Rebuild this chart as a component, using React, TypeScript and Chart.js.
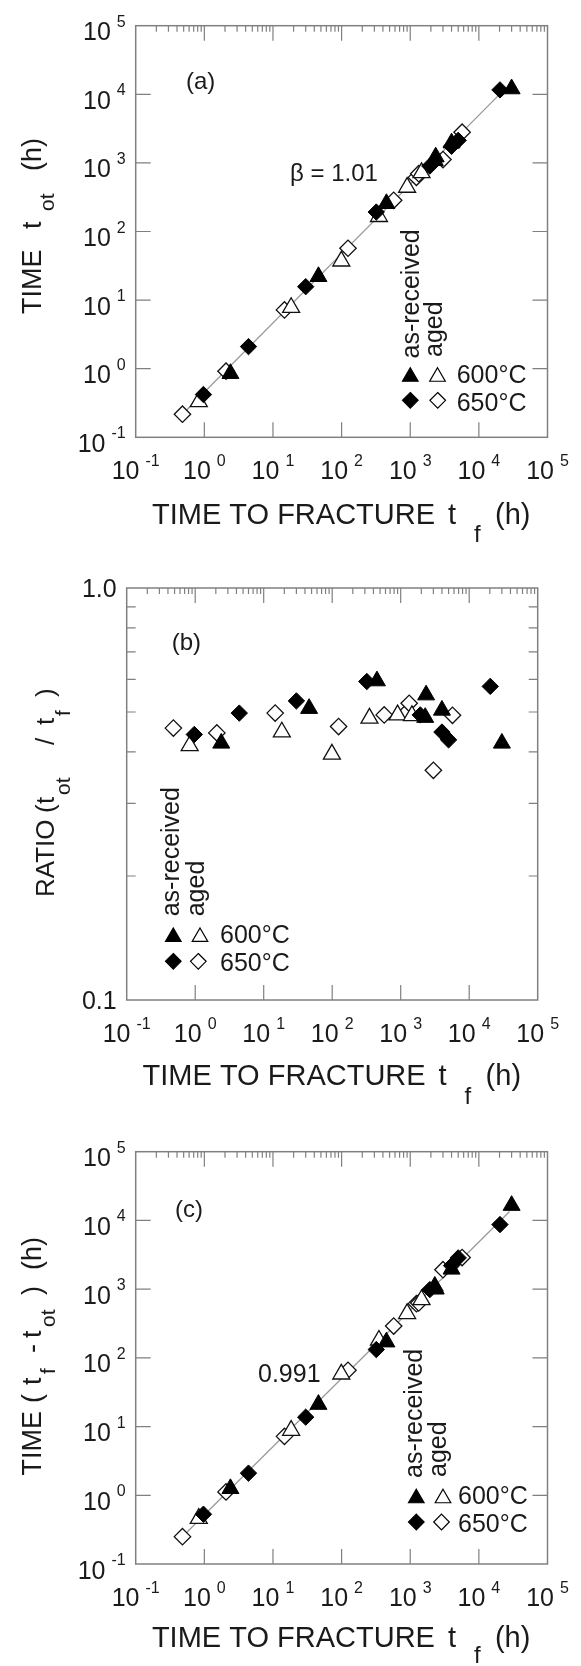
import React, { useEffect, useRef } from 'react';
import { Chart, registerables } from 'chart.js';

Chart.register(...registerables);

// ---------------- data (hours) ----------------
// as-received, 600°C (filled triangles)
const tfAR600 = [2.4, 46, 450, 2350, 2280, 4000, 30000];
const totAR600 = [0.85, 22, 255, 1220, 1080, 1950, 12000];
const ratioAR600 = [0.42, 0.51, 0.595, 0.55, 0.485, 0.505, 0.42];
const diffAR600 = [1.25, 21, 170, 1000, 1100, 1950, 16500];

// as-received, 650°C (filled diamonds)
const tfAR650 = [0.97, 4.4, 30, 320, 1930, 4000, 5000, 20300];
const totAR650 = [0.42, 2.1, 15.7, 192, 900, 1750, 2130, 11600];
const ratioAR650 = [0.441, 0.497, 0.532, 0.593, 0.492, 0.447, 0.428, 0.577];
const diffAR650 = [0.53, 2.1, 13.7, 132, 985, 2200, 2850, 8700];

// aged, 600°C (open triangles)
const tfAG600 = [0.83, 18.4, 99, 350, 900, 1460];
const totAG600 = [0.33, 7.8, 37, 165, 440, 720];
const ratioAG600 = [0.414, 0.447, 0.395, 0.483, 0.492, 0.49];
const diffAG600 = [0.46, 8.8, 58, 180, 440, 700];

// aged, 650°C (open diamonds)
const tfAG650 = [0.48, 2.07, 14.7, 124, 574, 1230, 1330, 3000, 5700];
const totAG650 = [0.217, 0.92, 7.2, 57, 285, 615, 695, 1120, 2800];
const ratioAG650 = [0.457, 0.445, 0.497, 0.461, 0.492, 0.5, 0.525, 0.361, 0.491];
const diffAG650 = [0.25, 1.12, 7.2, 66, 290, 615, 630, 1920, 2880];

// fitted lines
const fitXa = [0.48, 25000];
const fitYa = [0.217, 12500];
const fitXc = [0.47, 28000];
const fitYc = [0.245, 13500];

// axis ticks / labels
const xDecades = [-1, 0, 1, 2, 3, 4, 5];
const yDecades = [-1, 0, 1, 2, 3, 4, 5];
const minorMultipliers = [2, 3, 4, 5, 6, 7, 8, 9];
const ratioTicks = [0.2, 0.3, 0.4, 0.5, 0.6, 0.7, 0.8, 0.9];
const ratioLabelVals = [0.1, 1.0];
const ratioLabelText = ['0.1', '1.0'];

// ---------------- styling ----------------
const FONT = '"Liberation Sans", Arial, Helvetica, sans-serif';
const fnt = (s: number) => `${s}px ${FONT}`;
const TEXT = '#1a1a1a';
const AXIS = '#808080';
const LINE = '#9a9a9a';

type Seg = { t: string; at: number; size: number; dy?: number };
type Note = { t: string; x: number; y: number; size: number };
type Legend = {
  arX: number; arY0: number; agX: number; agY0: number;
  row1: number; row2: number; fx: number; oxT: number; oxD: number; tx: number; tb1: number; tb2: number;
};
type PanelCfg = {
  top: number;
  height: number;
  plot: { l: number; r: number; t: number; b: number };
  yMin: number;
  yMax: number;
  ratio: boolean;
  ys: { ar600: number[]; ar650: number[]; ag600: number[]; ag650: number[] };
  fit?: { x: number[]; y: number[] };
  xTitle: { x0: number; base: number; subDy: number };
  yTitle: { xb: number; y0: number; segs: Seg[] };
  notes: Note[];
  legend: Legend;
};

const pts = (xs: number[], ys: number[]) => xs.map((x, i) => ({ x, y: ys[i] }));

function drawPow(ctx: CanvasRenderingContext2D, x: number, base: number, d: number, align: 'center' | 'right') {
  ctx.font = fnt(25);
  const w1 = ctx.measureText('10').width;
  const e = String(d);
  ctx.font = fnt(16);
  const w2 = ctx.measureText(e).width;
  const gap = 6;
  const total = w1 + gap + w2;
  const x0 = align === 'center' ? x - total / 2 : x - total;
  ctx.font = fnt(25);
  ctx.fillText('10', x0, base);
  ctx.font = fnt(16);
  ctx.fillText(e, x0 + w1 + gap, base - 13.5);
}

function drawV(ctx: CanvasRenderingContext2D, xb: number, y0: number, segs: Seg[]) {
  ctx.save();
  ctx.translate(xb, y0);
  ctx.rotate(-Math.PI / 2);
  segs.forEach((s) => {
    ctx.font = fnt(s.size);
    ctx.fillText(s.t, s.at, s.dy || 0);
  });
  ctx.restore();
}

function legTri(ctx: CanvasRenderingContext2D, x: number, y: number, filled: boolean) {
  const hw = 7.8;
  const h = 13.5;
  ctx.beginPath();
  ctx.moveTo(x, y - h / 2);
  ctx.lineTo(x + hw, y + h / 2);
  ctx.lineTo(x - hw, y + h / 2);
  ctx.closePath();
  ctx.fillStyle = filled ? '#000' : '#fff';
  ctx.fill();
  ctx.lineWidth = 1.2;
  ctx.strokeStyle = '#000';
  ctx.stroke();
}

function legDia(ctx: CanvasRenderingContext2D, x: number, y: number, filled: boolean) {
  const r = 7.8;
  ctx.beginPath();
  ctx.moveTo(x, y - r);
  ctx.lineTo(x + r, y);
  ctx.lineTo(x, y + r);
  ctx.lineTo(x - r, y);
  ctx.closePath();
  ctx.fillStyle = filled ? '#000' : '#fff';
  ctx.fill();
  ctx.lineWidth = 1.2;
  ctx.strokeStyle = '#000';
  ctx.stroke();
}

function decor(cfg: PanelCfg) {
  return {
    id: 'decor',
    beforeDatasetsDraw(chart: any) {
      const ctx: CanvasRenderingContext2D = chart.ctx;
      const xs = chart.scales.x;
      const ys = chart.scales.y;
      const { left, right, top, bottom } = chart.chartArea;
      ctx.save();
      ctx.strokeStyle = AXIS;
      ctx.lineWidth = 1.5;
      ctx.strokeRect(left, top, right - left, bottom - top);
      ctx.lineWidth = 1.2;
      ctx.beginPath();
      xDecades.forEach((d) => {
        if (d <= -1 || d >= 5) return;
        const px = xs.getPixelForValue(Math.pow(10, d));
        ctx.moveTo(px, top);
        ctx.lineTo(px, top + 15);
        ctx.moveTo(px, bottom);
        ctx.lineTo(px, bottom - 15);
      });
      xDecades.forEach((d) => {
        if (d >= 5) return;
        minorMultipliers.forEach((m) => {
          const px = xs.getPixelForValue(m * Math.pow(10, d));
          ctx.moveTo(px, top);
          ctx.lineTo(px, top + 6);
        });
      });
      if (cfg.ratio) {
        ratioTicks.forEach((v) => {
          const py = ys.getPixelForValue(v);
          ctx.moveTo(left, py);
          ctx.lineTo(left + 9, py);
          ctx.moveTo(right, py);
          ctx.lineTo(right - 9, py);
        });
      } else {
        yDecades.forEach((d) => {
          if (d <= -1 || d >= 5) return;
          const py = ys.getPixelForValue(Math.pow(10, d));
          ctx.moveTo(left, py);
          ctx.lineTo(left + 15, py);
          ctx.moveTo(right, py);
          ctx.lineTo(right - 15, py);
        });
      }
      ctx.stroke();
      ctx.restore();
    },
    afterDraw(chart: any) {
      const ctx: CanvasRenderingContext2D = chart.ctx;
      const xs = chart.scales.x;
      const ys = chart.scales.y;
      const { left, bottom } = chart.chartArea;
      const oy = cfg.top;
      ctx.save();
      ctx.fillStyle = TEXT;
      ctx.textBaseline = 'alphabetic';
      ctx.textAlign = 'left';

      // x tick labels
      xDecades.forEach((d) => {
        drawPow(ctx, xs.getPixelForValue(Math.pow(10, d)), bottom + 42, d, 'center');
      });
      // y tick labels
      if (cfg.ratio) {
        ctx.font = fnt(25);
        ctx.textAlign = 'right';
        ratioLabelVals.forEach((v, i) => {
          ctx.fillText(ratioLabelText[i], left - 10, ys.getPixelForValue(v) + 9);
        });
        ctx.textAlign = 'left';
      } else {
        yDecades.forEach((d) => {
          drawPow(ctx, left - 10, ys.getPixelForValue(Math.pow(10, d)) + 14.5, d, 'right');
        });
      }

      // x title
      const xt = cfg.xTitle;
      const xb = xt.base - oy;
      ctx.font = fnt(29);
      ctx.fillText('TIME TO FRACTURE', xt.x0, xb);
      ctx.fillText('t', xt.x0 + 296, xb);
      ctx.font = fnt(24);
      ctx.fillText('f', xt.x0 + 322, xb + xt.subDy);
      ctx.font = fnt(29);
      ctx.fillText('(h)', xt.x0 + 343, xb);

      // y title
      drawV(ctx, cfg.yTitle.xb, cfg.yTitle.y0 - oy, cfg.yTitle.segs);

      // notes
      cfg.notes.forEach((n) => {
        ctx.font = fnt(n.size);
        ctx.fillText(n.t, n.x, n.y - oy);
      });

      // legend
      const L = cfg.legend;
      drawV(ctx, L.arX, L.arY0 - oy, [{ t: 'as-received', at: 0, size: 25 }]);
      drawV(ctx, L.agX, L.agY0 - oy, [{ t: 'aged', at: 0, size: 25 }]);
      legTri(ctx, L.fx, L.row1 - oy, true);
      legTri(ctx, L.oxT, L.row1 - oy, false);
      legDia(ctx, L.fx, L.row2 - oy, true);
      legDia(ctx, L.oxD, L.row2 - oy, false);
      ctx.fillStyle = TEXT;
      ctx.font = fnt(25);
      ctx.fillText('600°C', L.tx, L.tb1 - oy);
      ctx.fillText('650°C', L.tx, L.tb2 - oy);
      ctx.restore();
    },
  };
}

function buildConfig(cfg: PanelCfg): any {
  const W = 581;
  const p = cfg.plot;
  const datasets: any[] = [
    {
      label: 'as-received 600°C',
      data: pts(tfAR600, cfg.ys.ar600),
      pointStyle: 'triangle',
      pointRadius: 9.8,
      backgroundColor: '#000',
      borderColor: '#000',
      borderWidth: 1,
      order: 0,
    },
    {
      label: 'as-received 650°C',
      data: pts(tfAR650, cfg.ys.ar650),
      pointStyle: 'rectRot',
      pointRadius: 8.2,
      backgroundColor: '#000',
      borderColor: '#000',
      borderWidth: 1,
      order: 0,
    },
    {
      label: 'aged 600°C',
      data: pts(tfAG600, cfg.ys.ag600),
      pointStyle: 'triangle',
      pointRadius: 9.8,
      backgroundColor: '#fff',
      borderColor: '#111',
      borderWidth: 1.3,
      order: 1,
    },
    {
      label: 'aged 650°C',
      data: pts(tfAG650, cfg.ys.ag650),
      pointStyle: 'rectRot',
      pointRadius: 8.2,
      backgroundColor: '#fff',
      borderColor: '#111',
      borderWidth: 1.3,
      order: 1,
    },
  ];
  if (cfg.fit) {
    datasets.push({
      label: 'fit',
      data: pts(cfg.fit.x, cfg.fit.y),
      showLine: true,
      pointRadius: 0,
      borderColor: LINE,
      borderWidth: 1.3,
      order: 10,
    });
  }
  return {
    type: 'scatter',
    data: { datasets },
    options: {
      animation: false,
      responsive: false,
      devicePixelRatio: 1,
      events: [],
      layout: {
        padding: { left: p.l, right: W - p.r, top: p.t - cfg.top, bottom: cfg.top + cfg.height - p.b },
      },
      plugins: { legend: { display: false }, tooltip: { enabled: false }, title: { display: false } },
      scales: {
        x: { type: 'logarithmic', min: 0.1, max: 1e5, display: false },
        y: { type: 'logarithmic', min: cfg.yMin, max: cfg.yMax, display: false },
      },
    },
    plugins: [decor(cfg)],
  };
}

const panelA: PanelCfg = {
  top: 0,
  height: 545,
  plot: { l: 135.7, r: 547.5, t: 25.7, b: 437.3 },
  yMin: 0.1,
  yMax: 1e5,
  ratio: false,
  ys: { ar600: totAR600, ar650: totAR650, ag600: totAG600, ag650: totAG650 },
  fit: { x: fitXa, y: fitYa },
  xTitle: { x0: 152, base: 524, subDy: 17.6 },
  yTitle: {
    xb: 40.7,
    y0: 314,
    segs: [
      { t: 'TIME', at: 0, size: 27 },
      { t: 't', at: 85, size: 27 },
      { t: 'ot', at: 103, size: 21, dy: 13 },
      { t: '(h)', at: 143, size: 27 },
    ],
  },
  notes: [
    { t: '(a)', x: 186, y: 89, size: 24 },
    { t: 'β = 1.01', x: 290, y: 181, size: 24 },
  ],
  legend: { arX: 418.5, arY0: 358.5, agX: 442, agY0: 357, row1: 374.5, row2: 400.3, fx: 410.3, oxT: 437.5, oxD: 437.7, tx: 456.7, tb1: 383, tb2: 410.5 },
};

const panelB: PanelCfg = {
  top: 545,
  height: 560,
  plot: { l: 126.7, r: 537.7, t: 588, b: 1000 },
  yMin: 0.1,
  yMax: 1,
  ratio: true,
  ys: { ar600: ratioAR600, ar650: ratioAR650, ag600: ratioAG600, ag650: ratioAG650 },
  xTitle: { x0: 142.6, base: 1085, subDy: 19 },
  yTitle: {
    xb: 53.7,
    y0: 897,
    segs: [
      { t: 'RATIO', at: 0, size: 26 },
      { t: '(', at: 84, size: 26 },
      { t: 't', at: 93, size: 26 },
      { t: 'ot', at: 102, size: 21, dy: 16 },
      { t: '/', at: 152, size: 26 },
      { t: 't', at: 172, size: 26 },
      { t: 'f', at: 181, size: 21, dy: 16 },
      { t: ')', at: 200, size: 26 },
    ],
  },
  notes: [{ t: '(b)', x: 171.7, y: 650, size: 24 }],
  legend: { arX: 179, arY0: 916.3, agX: 204, agY0: 916.3, row1: 934.7, row2: 961.3, fx: 173.3, oxT: 200, oxD: 198.3, tx: 220, tb1: 943, tb2: 971 },
};

const panelC: PanelCfg = {
  top: 1105,
  height: 561,
  plot: { l: 135.7, r: 547.5, t: 1151.7, b: 1564 },
  yMin: 0.1,
  yMax: 1e5,
  ratio: false,
  ys: { ar600: diffAR600, ar650: diffAR650, ag600: diffAG600, ag650: diffAG650 },
  fit: { x: fitXc, y: fitYc },
  xTitle: { x0: 151.9, base: 1647, subDy: 16 },
  yTitle: {
    xb: 40.7,
    y0: 1475.5,
    segs: [
      { t: 'TIME', at: 0, size: 27 },
      { t: '(', at: 72.5, size: 27 },
      { t: 't', at: 90.5, size: 27 },
      { t: 'f', at: 101.5, size: 21, dy: 14 },
      { t: '-', at: 122.5, size: 27 },
      { t: 't', at: 137.5, size: 27 },
      { t: 'ot', at: 148.5, size: 21, dy: 14 },
      { t: ')', at: 180.5, size: 27 },
      { t: '(h)', at: 205.5, size: 27 },
    ],
  },
  notes: [
    { t: '(c)', x: 175, y: 1217, size: 24 },
    { t: '0.991', x: 258, y: 1381.5, size: 25 },
  ],
  legend: { arX: 422, arY0: 1478, agX: 446, agY0: 1477, row1: 1496, row2: 1522, fx: 416.3, oxT: 443, oxD: 441.5, tx: 458, tb1: 1503.5, tb2: 1532 },
};

function Panel({ cfg }: { cfg: PanelCfg }) {
  const ref = useRef<HTMLCanvasElement>(null);
  useEffect(() => {
    if (!ref.current) return;
    const chart = new Chart(ref.current, buildConfig(cfg));
    return () => chart.destroy();
  }, [cfg]);
  return (
    <canvas
      ref={ref}
      width={581}
      height={cfg.height}
      style={{ position: 'absolute', left: 0, top: cfg.top, width: 581, height: cfg.height, display: 'block' }}
    />
  );
}

export default function App() {
  return (
    <div style={{ position: 'absolute', left: 0, top: 0, width: 581, height: 1666, background: '#fff', overflow: 'hidden' }}>
      <Panel cfg={panelA} />
      <Panel cfg={panelB} />
      <Panel cfg={panelC} />
    </div>
  );
}
